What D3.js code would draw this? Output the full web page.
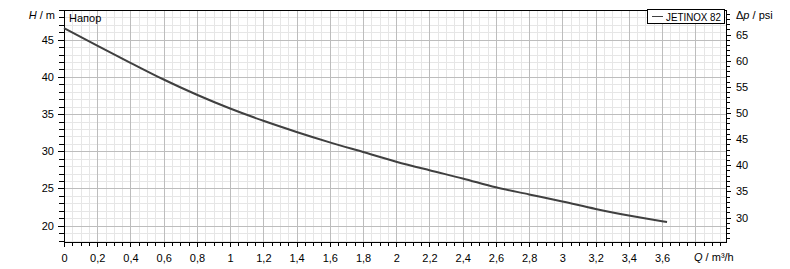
<!DOCTYPE html>
<html>
<head>
<meta charset="utf-8">
<script src="https://cdn.jsdelivr.net/npm/d3@7"></script>
<style>
  body { margin: 0; background: #fff; }
  svg { display: block; font-family: "Liberation Sans", Arial, sans-serif; font-size: 11px; }
  .domain { display: none; }
</style>
</head>
<body>
<div id="chart"></div>
<script>
// pump curve data
var flowQ = [0, 0.2, 0.4, 0.6, 0.8, 1.0, 1.2, 1.4, 1.6, 1.8, 2.0, 2.2, 2.4, 2.6, 2.8, 3.0, 3.2, 3.4, 3.6, 3.63];
var headH = [46.55, 44.2, 41.9, 39.65, 37.6, 35.75, 34.1, 32.6, 31.2, 29.9, 28.6, 27.45, 26.35, 25.15, 24.2, 23.25, 22.25, 21.35, 20.6, 20.5];

var xMajorTicks = [0, 0.2, 0.4, 0.6, 0.8, 1, 1.2, 1.4, 1.6, 1.8, 2, 2.2, 2.4, 2.6, 2.8, 3, 3.2, 3.4, 3.6, 3.8];
var xLabelTicks = [0, 0.2, 0.4, 0.6, 0.8, 1, 1.2, 1.4, 1.6, 1.8, 2, 2.2, 2.4, 2.6, 2.8, 3, 3.2, 3.4, 3.6];
var hLabelTicks = [20, 25, 30, 35, 40, 45];
var psiLabelTicks = [30, 35, 40, 45, 50, 55, 60, 65];

var seriesName = "JETINOX 82";
var curveTitle = "Напор";
var M_TO_PSI = 1.4223;

// Set the dimensions of the canvas / plot
var width = 790, height = 269;
var plotLeft = 64, plotRight = 726, plotTop = 10, plotBottom = 242;

var x = d3.scaleLinear().domain([0, 3.985]).range([plotLeft, plotRight]);
var y = d3.scaleLinear().domain([17.8, 49]).range([plotBottom, plotTop]);
var yPsi = d3.scaleLinear().domain([17.8 * M_TO_PSI, 49 * M_TO_PSI]).range([plotBottom, plotTop]);

var fmt = function(v) { return (+v.toFixed(2)).toString().replace(".", ","); };

var svg = d3.select("#chart").append("svg")
    .attr("width", width)
    .attr("height", height);

// minor grid
var xMinor = d3.range(0, 80).map(function(i) { return i * 0.05; }).filter(function(v) { return v <= 3.985; });
var hMinor = d3.range(18, 50);
var psiMinor = d3.range(26, 70);

var grid = svg.append("g").attr("shape-rendering", "crispEdges");

grid.selectAll(".vminor").data(xMinor).enter().append("line")
    .attr("x1", function(d) { return Math.round(x(d)) + 0.5; })
    .attr("x2", function(d) { return Math.round(x(d)) + 0.5; })
    .attr("y1", plotTop).attr("y2", plotBottom)
    .attr("stroke", "#e6e6e6");

grid.selectAll(".hminor").data(hMinor).enter().append("line")
    .attr("y1", function(d) { return Math.round(y(d)) + 0.5; })
    .attr("y2", function(d) { return Math.round(y(d)) + 0.5; })
    .attr("x1", plotLeft).attr("x2", plotRight)
    .attr("stroke", "#e6e6e6");

grid.selectAll(".vmajor").data(xMajorTicks).enter().append("line")
    .attr("x1", function(d) { return Math.round(x(d)) + 0.5; })
    .attr("x2", function(d) { return Math.round(x(d)) + 0.5; })
    .attr("y1", plotTop).attr("y2", plotBottom)
    .attr("stroke", "#bdbdbd");

grid.selectAll(".hmajor").data(hLabelTicks).enter().append("line")
    .attr("y1", function(d) { return Math.round(y(d)) + 0.5; })
    .attr("y2", function(d) { return Math.round(y(d)) + 0.5; })
    .attr("x1", plotLeft).attr("x2", plotRight)
    .attr("stroke", "#bdbdbd");

// Axes
svg.append("g")
    .attr("transform", "translate(0," + plotBottom + ")")
    .call(d3.axisBottom(x).tickValues(xMinor).tickSize(4).tickFormat(""));
svg.append("g")
    .attr("transform", "translate(0," + plotBottom + ")")
    .call(d3.axisBottom(x).tickValues(xLabelTicks).tickSize(5).tickPadding(7).tickFormat(fmt));

svg.append("g")
    .attr("transform", "translate(" + plotLeft + ",0)")
    .call(d3.axisLeft(y).tickValues(hMinor).tickSize(5).tickFormat(""));
svg.append("g")
    .attr("transform", "translate(" + plotLeft + ",0)")
    .call(d3.axisLeft(y).tickValues(hLabelTicks).tickSize(6).tickPadding(4).tickFormat(d3.format("d")));

svg.append("g")
    .attr("transform", "translate(" + plotRight + ",0)")
    .call(d3.axisRight(yPsi).tickValues(psiMinor).tickSize(4).tickFormat(""));
svg.append("g")
    .attr("transform", "translate(" + plotRight + ",0)")
    .call(d3.axisRight(yPsi).tickValues(psiLabelTicks).tickSize(5).tickPadding(5).tickFormat(d3.format("d")));

svg.selectAll(".tick line").attr("stroke", "#000").attr("shape-rendering", "crispEdges");
svg.selectAll(".tick text").attr("fill", "#000").style("font-size", "11px");

// plot frame
svg.append("rect")
    .attr("x", plotLeft + 0.5).attr("y", plotTop + 0.5)
    .attr("width", plotRight - plotLeft).attr("height", plotBottom - plotTop)
    .attr("fill", "none").attr("stroke", "#000")
    .attr("shape-rendering", "crispEdges");

// Head curve
var valueline = d3.line()
    .x(function(d, i) { return x(flowQ[i]); })
    .y(function(d) { return y(d); })
    .curve(d3.curveMonotoneX);

svg.append("path")
    .datum(headH)
    .attr("d", valueline)
    .attr("fill", "none")
    .attr("stroke", "#404040")
    .attr("stroke-width", 2);

// axis titles
var hTitle = svg.append("text").attr("x", 55).attr("y", 19).attr("text-anchor", "end");
hTitle.append("tspan").attr("font-style", "italic").text("H");
hTitle.append("tspan").text(" / m");

var pTitle = svg.append("text").attr("x", 736).attr("y", 19);
pTitle.append("tspan").text("Δ");
pTitle.append("tspan").attr("font-style", "italic").text("p");
pTitle.append("tspan").text(" / psi");

var qTitle = svg.append("text").attr("x", 694).attr("y", 261);
qTitle.append("tspan").attr("font-style", "italic").text("Q");
qTitle.append("tspan").text(" / m³/h");

svg.append("text").attr("x", 69).attr("y", 22).text(curveTitle);

// legend
var legend = svg.append("g");
legend.append("rect")
    .attr("x", 647.5).attr("y", 9.5).attr("width", 77).attr("height", 14)
    .attr("fill", "#fff").attr("stroke", "#000")
    .attr("shape-rendering", "crispEdges");
legend.append("line")
    .attr("x1", 652).attr("x2", 663).attr("y1", 16.5).attr("y2", 16.5)
    .attr("stroke", "#404040").attr("shape-rendering", "crispEdges");
legend.append("text").attr("x", 666).attr("y", 20.5)
    .attr("textLength", 55).attr("lengthAdjust", "spacingAndGlyphs")
    .text(seriesName);
</script>
</body>
</html>
